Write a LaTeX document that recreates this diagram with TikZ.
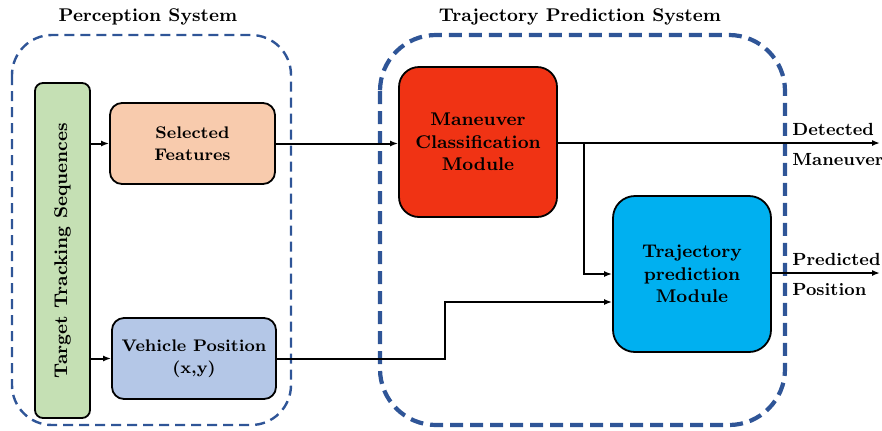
\documentclass[tikz,border=0pt]{standalone}
\usetikzlibrary{arrows.meta,calc}

\definecolor{frameblue}{HTML}{2F5597}
\definecolor{seqgreen}{HTML}{C5E0B4}
\definecolor{featorange}{HTML}{F8CBAD}
\definecolor{poslblue}{HTML}{B4C7E7}
\definecolor{modred}{HTML}{F03314}
\definecolor{modcyan}{HTML}{00B0F0}

\begin{document}
\begin{tikzpicture}[x=0.5pt,y=-0.5pt,
  block/.style={draw=black,line width=0.9pt,align=center,inner sep=1pt},
  smallblock/.style={block,rounded corners=6pt,minimum width=82.5pt,minimum height=40.5pt,
    font=\fontsize{8.4}{10.8}\selectfont\bfseries},
  bigblock/.style={block,minimum width=79pt,font=\fontsize{9.2}{11.3}\selectfont\bfseries},
  frame/.style={draw=frameblue,rounded corners=#1},
  title/.style={font=\fontsize{9.2}{11}\selectfont\bfseries},
  outlabel/.style={anchor=west,inner sep=0pt,font=\fontsize{8.8}{11}\selectfont\bfseries},
  arr/.style={-{Latex[length=4pt,width=3pt]},line width=1pt}]

\useasboundingbox (0,0) rectangle (882,430);

% system frames
\draw[frame=20pt,line width=1.2pt,dash pattern=on 5pt off 3pt] (12,35) rectangle (291,425);
\draw[frame=28pt,line width=2.1pt,dash pattern=on 6.5pt off 3.5pt] (380,35) rectangle (785,425);
\node[title] (pstitle) at (148,17) {Perception System};
\node[title] (tpstitle) at (580,17) {Trajectory Prediction System};

% perception blocks
\node[block,fill=seqgreen,rounded corners=4pt,rotate=90,minimum width=167.5pt,minimum height=27.5pt,
  font=\fontsize{9.2}{11}\selectfont\bfseries] (seq) at (62.5,250.5) {Target Tracking Sequences};
\node[smallblock,fill=featorange] (sf) at (192.5,143.5) {Selected\\Features};
\node[smallblock,fill=poslblue,minimum width=82pt] (vp) at (194,358.5) {Vehicle Position\\(x,y)};

% prediction blocks
\node[bigblock,fill=modred,rounded corners=10pt,minimum height=75pt] (mc) at (478,142)
  {Maneuver\\Classification\\Module};
\node[bigblock,fill=modcyan,rounded corners=11pt,minimum height=78pt] (tp) at (692,274)
  {Trajectory\\prediction\\Module};

% outputs
\coordinate (dmout) at (880,143);
\coordinate (ppout) at (880,273);
\coordinate (split) at (584,143);
\coordinate (tpin) at ($(tp.west)+(0,28)$);
\node[outlabel] (dmlab1) at (792,129) {Detected};
\node[outlabel] (dmlab2) at (792,160) {Maneuver};
\node[outlabel] (pplab1) at (792,259) {Predicted};
\node[outlabel] (pplab2) at (792,290) {Position};

% connectors
\draw[arr] (seq.south |- sf.west) -- (sf.west);
\draw[arr] (seq.south |- vp.west) -- (vp.west);
\draw[arr] (sf.east) -- (sf.east -| mc.west);
\draw[arr] (mc.east |- dmout) -- (dmout);
\draw[arr] (split) |- (tp.west);
\draw[arr] (vp.east) -- ++(168,0) |- (tpin);
\draw[arr] (tp.east |- ppout) -- (ppout);

\end{tikzpicture}
\end{document}
